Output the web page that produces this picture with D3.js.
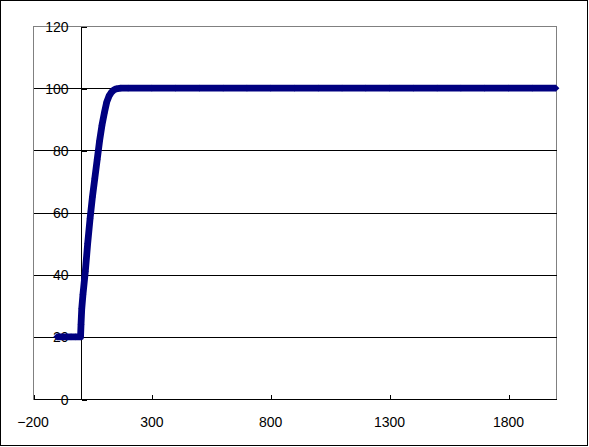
<!DOCTYPE html>
<html>
<head>
<meta charset="utf-8">
<script src="https://cdn.jsdelivr.net/npm/d3@7"></script>
<style>
  html, body { margin: 0; padding: 0; background: #fff; }
  svg { display: block; }
  text { font-family: "Liberation Sans", Arial, sans-serif; font-size: 14px; fill: #000; }
</style>
</head>
<body>
<svg id="chart" width="589" height="447"></svg>
<script>
// Data
const xValues = [-100, -80, -60, -40, -20, 0, 2, 5, 10, 20, 30, 40, 50, 60, 70, 80, 90, 100, 110, 120, 130, 140, 150, 170, 200,
  300, 400, 500, 600, 700, 800, 900, 1000, 1100, 1200, 1300, 1400, 1500, 1600, 1700, 1800, 1900, 2000];
const yValues = [20, 20, 20, 20, 20, 20, 24, 29, 33.5, 41, 50, 58, 65, 71, 77, 83, 88, 92, 95.5, 97.5, 98.7, 99.4, 99.8, 100, 100,
  100, 100, 100, 100, 100, 100, 100, 100, 100, 100, 100, 100, 100, 100, 100, 100, 100, 100];
const xTicks = [-200, 300, 800, 1300, 1800];
const yTicks = [0, 20, 40, 60, 80, 100, 120];
const xDomain = [-200, 2000];
const yDomain = [0, 120];

const svg = d3.select("#chart");
const plot = { left: 33, top: 26, right: 556, bottom: 399 };

const x = d3.scaleLinear().domain(xDomain).range([plot.left, plot.right]);
const y = d3.scaleLinear().domain(yDomain).range([plot.bottom, plot.top]);
const crisp = v => Math.round(v) + 0.5;

// outer frame
svg.append("rect").attr("x", 0.5).attr("y", 0.5).attr("width", 587).attr("height", 445)
  .attr("fill", "#fff").attr("stroke", "#000").attr("stroke-width", 1);

// plot area border (gray)
svg.append("rect")
  .attr("x", crisp(plot.left)).attr("y", crisp(plot.top))
  .attr("width", Math.round(plot.right) - Math.round(plot.left))
  .attr("height", Math.round(plot.bottom) - Math.round(plot.top))
  .attr("fill", "none").attr("stroke", "#808080").attr("stroke-width", 1)
  .attr("shape-rendering", "crispEdges");

// horizontal gridlines
svg.append("g").selectAll("line")
  .data(yTicks.filter(t => t > yDomain[0] && t < yDomain[1]))
  .join("line")
  .attr("x1", crisp(plot.left)).attr("x2", crisp(plot.right))
  .attr("y1", d => crisp(y(d))).attr("y2", d => crisp(y(d)))
  .attr("stroke", "#000").attr("stroke-width", 1).attr("shape-rendering", "crispEdges");

// x axis (at y = 0) with inward ticks
const xAxis = d3.axisTop(x).tickValues(xTicks).tickSize(5).tickFormat("");
const gx = svg.append("g").attr("transform", `translate(0.5,${crisp(y(0))})`).call(xAxis);
gx.select(".domain").remove();
gx.selectAll("line").attr("stroke", "#000").attr("shape-rendering", "crispEdges");
svg.append("line")
  .attr("x1", crisp(plot.left)).attr("x2", crisp(plot.right))
  .attr("y1", crisp(y(0))).attr("y2", crisp(y(0)))
  .attr("stroke", "#000").attr("shape-rendering", "crispEdges");

// y axis (at x = 0) with inward ticks
const yAxis = d3.axisRight(y).tickValues(yTicks).tickSize(5).tickFormat("");
const gy = svg.append("g").attr("transform", `translate(${crisp(x(0))},0.5)`).call(yAxis);
gy.select(".domain").remove();
gy.selectAll("line").attr("stroke", "#000").attr("shape-rendering", "crispEdges");
svg.append("line")
  .attr("x1", crisp(x(0))).attr("x2", crisp(x(0)))
  .attr("y1", crisp(plot.top)).attr("y2", crisp(plot.bottom))
  .attr("stroke", "#000").attr("shape-rendering", "crispEdges");

// tick labels
const fmt = d3.format("d");
svg.append("g").selectAll("text").data(xTicks).join("text")
  .attr("x", d => x(d)).attr("y", 422)
  .attr("text-anchor", "middle").attr("dominant-baseline", "central")
  .text(d => fmt(d));
svg.append("g").selectAll("text").data(yTicks).join("text")
  .attr("x", 68.5).attr("y", d => y(d) + 0.5)
  .attr("text-anchor", "end").attr("dominant-baseline", "central")
  .text(d => fmt(d));

// series
const pts = xValues.map((v, i) => [v, yValues[i]]);
const navy = "#000080";
svg.append("path")
  .attr("d", d3.line().x(d => x(d[0])).y(d => y(d[1]))(pts))
  .attr("fill", "none").attr("stroke", navy).attr("stroke-width", 6.8)
  .attr("stroke-linejoin", "round");
svg.append("g").selectAll("path").data(pts).join("path")
  .attr("transform", d => `translate(${x(d[0])},${y(d[1])})`)
  .attr("d", "M0,-3.4L3.4,0L0,3.4L-3.4,0Z")
  .attr("fill", navy);
</script>
</body>
</html>
